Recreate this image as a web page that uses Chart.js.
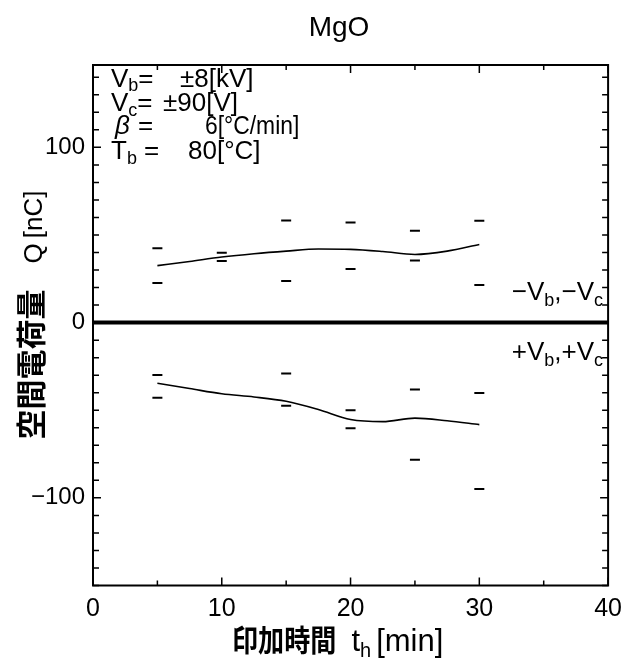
<!DOCTYPE html>
<html>
<head>
<meta charset="utf-8">
<script src="https://cdn.jsdelivr.net/npm/chart.js@4.4.0/dist/chart.umd.min.js"></script>
<style>
  html, body { margin: 0; padding: 0; background: #fff; }
</style>
</head>
<body>
<canvas id="chart" width="631" height="659"></canvas>
<script>
// measurement times [min]
const times = [5, 10, 15, 20, 25, 30];
// -Vb,-Vc (positive charge): spread of readings
const negHigh = [42.5, 39.9, 58.3, 57.2, 52.4, 58.1];
const negLow = [22.6, 35.1, 23.7, 30.6, 35.5, 21.4];
// +Vb,+Vc (negative charge): spread of readings
const posHigh = [-29.9, null, -29.1, -50.0, -38.2, -40.1];
const posLow = [-42.8, null, -47.5, -60.3, -78.3, -94.9];
// smoothed mean curves
const curveTimes = [5, 7.5, 10, 12.5, 15, 17.5, 20, 22.5, 25, 27.5, 30];
const negCurve = [32.5, 34.9, 37.4, 39.3, 40.8, 42.0, 41.8, 40.6, 38.9, 40.8, 44.6];
const posCurve = [-34.6, -37.6, -40.6, -42.4, -44.9, -49.6, -55.3, -56.5, -54.5, -56.0, -58.2];
const xTicks = ['0', '10', '20', '30', '40'];
const yTicks = ['−100', '0', '100'];

const latin = "'Liberation Sans', Arial, Helvetica, sans-serif";
const cjk = "'Noto Sans CJK JP', 'Noto Sans CJK SC', sans-serif";

const pts = (xs, ys) => xs.map((x, i) => ({ x: x, y: ys[i] }));

const dashSet = (ys) => ({
    type: 'scatter',
    data: pts(times, ys),
    pointStyle: 'line',
    pointRadius: 5,
    borderWidth: 2,
    borderColor: '#000',
    backgroundColor: '#000',
});

const curveSet = (ys) => ({
    type: 'line',
    data: pts(curveTimes, ys),
    borderColor: '#000',
    borderWidth: 1.6,
    pointRadius: 0,
    cubicInterpolationMode: 'monotone',
    fill: false,
});

// draw a run of text pieces, some as subscripts, some squeezed
function drawRich(ctx, parts, x, y) {
    parts.forEach((p) => {
        ctx.font = p.font;
        if (p.x !== undefined) x = p.x;
        const sx = p.sx || 1;
        ctx.save();
        ctx.translate(x, y + (p.dy || 0));
        ctx.scale(sx, 1);
        ctx.fillText(p.t, 0, 0);
        ctx.restore();
        x += ctx.measureText(p.t).width * sx + (p.gap || 0);
    });
    return x;
}

function richWidth(ctx, parts) {
    let w = 0;
    parts.forEach((p) => {
        ctx.font = p.font;
        w += ctx.measureText(p.t).width * (p.sx || 1) + (p.gap || 0);
    });
    return w;
}

const decor = {
    id: 'decor',
    afterDatasetsDraw(chart) {
        const { ctx, chartArea: a, scales } = chart;
        ctx.save();
        ctx.strokeStyle = '#000';
        ctx.fillStyle = '#000';

        // frame
        ctx.lineWidth = 2;
        ctx.strokeRect(a.left, a.top, a.right - a.left, a.bottom - a.top);

        // inward ticks on all four sides
        ctx.lineWidth = 1.5;
        ctx.beginPath();
        scales.x.ticks.forEach((t) => {
            const px = scales.x.getPixelForValue(t.value);
            const len = t.value % 10 === 0 ? 8 : 5;
            ctx.moveTo(px, a.bottom); ctx.lineTo(px, a.bottom - len);
            ctx.moveTo(px, a.top); ctx.lineTo(px, a.top + len);
        });
        scales.y.ticks.forEach((t) => {
            const py = scales.y.getPixelForValue(t.value);
            const len = t.value % 100 === 0 ? 8 : 6;
            ctx.moveTo(a.left, py); ctx.lineTo(a.left + len, py);
            ctx.moveTo(a.right, py); ctx.lineTo(a.right - len, py);
        });
        ctx.stroke();

        ctx.textBaseline = 'alphabetic';
        ctx.textAlign = 'left';

        // title
        ctx.font = `28px ${latin}`;
        ctx.textAlign = 'center';
        ctx.fillText('MgO', 339, 36);
        ctx.textAlign = 'left';

        // conditions block
        const big = `26px ${latin}`;
        const sub = `18px ${latin}`;
        drawRich(ctx, [
            { t: 'V', font: big, x: 111 }, { t: 'b', font: sub, dy: 4 }, { t: '=', font: big },
            { t: '±8[kV]', font: big, x: 180 },
        ], 0, 87);
        drawRich(ctx, [
            { t: 'V', font: big, x: 111 }, { t: 'c', font: sub, dy: 5 }, { t: '=', font: big },
            { t: '±90[V]', font: big, x: 163 },
        ], 0, 111);
        drawRich(ctx, [
            { t: 'β', font: `italic 26px ${latin}`, x: 115 }, { t: '=', font: big, x: 138 },
            { t: '6[°C/min]', font: big, x: 205, sx: 0.88 },
        ], 0, 134);
        drawRich(ctx, [
            { t: 'T', font: big, x: 111 }, { t: 'b', font: sub, dy: 5 }, { t: ' =', font: big },
            { t: '80[°C]', font: big, x: 188 },
        ], 0, 159);

        // series labels, right aligned inside the frame
        const lab = `26px ${latin}`;
        const labSub = `18px ${latin}`;
        const negLab = [
            { t: '−V', font: lab }, { t: 'b', font: labSub, dy: 6 }, { t: ',', font: lab },
            { t: '−V', font: lab }, { t: 'c', font: labSub, dy: 6 },
        ];
        const posLab = [
            { t: '+V', font: lab }, { t: 'b', font: labSub, dy: 6 }, { t: ',', font: lab },
            { t: '+V', font: lab }, { t: 'c', font: labSub, dy: 6 },
        ];
        drawRich(ctx, negLab, a.right - 5 - richWidth(ctx, negLab), 300);
        drawRich(ctx, posLab, a.right - 5 - richWidth(ctx, posLab), 360);

        // x axis title
        const xTitle = [
            { t: '印加時間', font: `bold 30px ${cjk}`, sx: 0.87, gap: 15 },
            { t: 't', font: `31px ${latin}` }, { t: 'h', font: `20px ${latin}`, dy: 6, gap: 5 },
            { t: '[min]', font: `31px ${latin}` },
        ];
        drawRich(ctx, xTitle, 232, 651);

        // y axis title
        const yTitle = [
            { t: '空間電荷量', font: `bold 30px ${cjk}`, gap: 26 },
            { t: 'Q', font: `26px ${latin}`, gap: 5 },
            { t: '[nC]', font: `26px ${latin}` },
        ];
        const yw = richWidth(ctx, yTitle);
        ctx.translate(42, 315);
        ctx.rotate(-Math.PI / 2);
        drawRich(ctx, yTitle, -yw / 2, 0);
        ctx.restore();
    },
};

new Chart(document.getElementById('chart'), {
    type: 'scatter',
    data: {
        datasets: [
            {
                type: 'line',
                data: [{ x: 0, y: 0 }, { x: 40, y: 0 }],
                borderColor: '#000',
                borderWidth: 4,
                pointRadius: 0,
            },
            dashSet(negHigh),
            dashSet(negLow),
            dashSet(posHigh),
            dashSet(posLow),
            curveSet(negCurve),
            curveSet(posCurve),
        ],
    },
    options: {
        responsive: false,
        animation: false,
        events: [],
        layout: { padding: { top: 65, right: 14, left: 0, bottom: 0 } },
        plugins: {
            legend: { display: false },
            tooltip: { enabled: false },
        },
        scales: {
            x: {
                type: 'linear',
                min: 0,
                max: 40,
                grid: { display: false, drawTicks: false },
                border: { display: false },
                ticks: {
                    stepSize: 5,
                    autoSkip: false,
                    maxRotation: 0,
                    padding: 9,
                    color: '#000',
                    font: { family: latin, size: 25 },
                    callback: (v) => xTicks.includes(String(v)) ? String(v) : '',
                },
                afterFit: (s) => { s.height = 73.5; },
            },
            y: {
                type: 'linear',
                min: -150,
                max: 147,
                grid: { display: false, drawTicks: false },
                border: { display: false },
                ticks: {
                    stepSize: 10,
                    includeBounds: false,
                    autoSkip: false,
                    padding: 8,
                    color: '#000',
                    font: { family: latin, size: 24 },
                    callback: (v) => {
                        const s = v < 0 ? '−' + (-v) : String(v);
                        return yTicks.includes(s) ? s : '';
                    },
                },
                afterFit: (s) => { s.width = 93; },
            },
        },
    },
    plugins: [decor],
});
</script>
</body>
</html>
